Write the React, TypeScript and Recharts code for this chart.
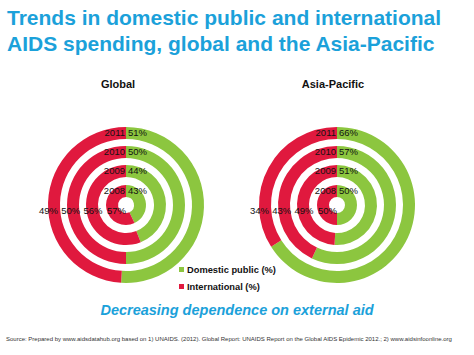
import React from 'react';
import { PieChart, Pie, Cell } from 'recharts';

const years = ['2008', '2009', '2010', '2011'];
const globalDomestic = [43, 44, 50, 51];
const globalInternational = [57, 56, 50, 49];
const asiaDomestic = [50, 51, 57, 66];
const asiaInternational = [50, 49, 43, 34];
const seriesNames = ['Domestic public (%)', 'International (%)'];

const COLORS = ['#8CC63F', '#E0193E'];
const BLUE = '#1BA1DA';
const FONT = '"Liberation Sans", Arial, sans-serif';

// ring radii, innermost (2008) first
const RINGS = [
  [8, 20],
  [28, 40],
  [47, 59],
  [66, 78]
];

const makeLabel = (year: string) => (props: any) => {
  const { cx, cy, innerRadius, outerRadius, index, value } = props;
  const mid = (innerRadius + outerRadius) / 2;
  if (index === 0) {
    return (
      <g>
        <text x={cx - 1} y={cy - mid + 3} textAnchor="end" fontSize={9.5} fill="#111" fontFamily={FONT}>
          {year}
        </text>
        <text x={cx + 2} y={cy - mid + 3} textAnchor="start" fontSize={9.5} fill="#111" fontFamily={FONT}>
          {`${value}%`}
        </text>
      </g>
    );
  }
  // Excel spreads these labels a little wider than the ring midlines
  const dist = 1.175 * mid - 7;
  return (
    <text x={cx - dist} y={cy + 8.5} textAnchor="middle" fontSize={9.5} fill="#111" fontFamily={FONT}>
      {`${value}%`}
    </text>
  );
};

function rings(cx: number, domestic: number[], international: number[], key: string) {
  return years.map((year, i) => {
    const data = [
      { name: seriesNames[0], value: domestic[i] },
      { name: seriesNames[1], value: international[i] }
    ];
    return (
      <Pie
        key={`${key}-${year}`}
        data={data}
        dataKey="value"
        nameKey="name"
        cx={cx}
        cy={200}
        innerRadius={RINGS[i][0]}
        outerRadius={RINGS[i][1]}
        startAngle={90}
        endAngle={-270}
        stroke="none"
        label={makeLabel(year)}
        labelLine={false}
        isAnimationActive={false}
      >
        {data.map((entry, idx) => (
          <Cell key={`c-${idx}`} fill={COLORS[idx]} />
        ))}
      </Pie>
    );
  });
}

const abs = (style: React.CSSProperties): React.CSSProperties => ({
  position: 'absolute',
  fontFamily: FONT,
  whiteSpace: 'nowrap',
  ...style
});

export default function App() {
  return (
    <div style={{ position: 'absolute', left: 0, top: 0, width: 474, height: 355, background: '#fff', overflow: 'hidden' }}>
      <div style={abs({ left: 7, top: 5, fontSize: 21, fontWeight: 'bold', color: BLUE, lineHeight: '26px' })}>
        Trends in domestic public and international
        <br />
        AIDS spending, global and the Asia-Pacific
      </div>
      <div style={abs({ left: 68, width: 100, textAlign: 'center', top: 78, fontSize: 11, fontWeight: 'bold', color: '#111' })}>
        Global
      </div>
      <div style={abs({ left: 283, width: 100, textAlign: 'center', top: 78, fontSize: 11, fontWeight: 'bold', color: '#111' })}>
        Asia-Pacific
      </div>
      <div style={{ position: 'absolute', left: 0, top: 0 }}>
        <PieChart width={474} height={355}>
          {rings(121, globalDomestic, globalInternational, 'g')}
          {rings(332, asiaDomestic, asiaInternational, 'a')}
        </PieChart>
      </div>
      {seriesNames.map((name, i) => (
        <div key={name} style={abs({ left: 179, top: 263 + i * 17, fontSize: 9.3, fontWeight: 'bold', color: '#111', lineHeight: '14px' })}>
          <span style={{ display: 'inline-block', width: 5, height: 5, background: COLORS[i], marginRight: 3, verticalAlign: 'middle', position: 'relative', top: -1 }} />
          {name}
        </div>
      ))}
      <div style={abs({ left: 0, width: 474, textAlign: 'center', top: 302, fontSize: 14.5, fontWeight: 'bold', fontStyle: 'italic', color: BLUE })}>
        Decreasing dependence on external aid
      </div>
      <div style={abs({ left: 6, top: 336, fontSize: 6, color: '#333' })}>
        Source: Prepared by www.aidsdatahub.org based on 1) UNAIDS. (2012). Global Report: UNAIDS Report on the Global AIDS Epidemic 2012.; 2) www.aidsinfoonline.org
      </div>
    </div>
  );
}
